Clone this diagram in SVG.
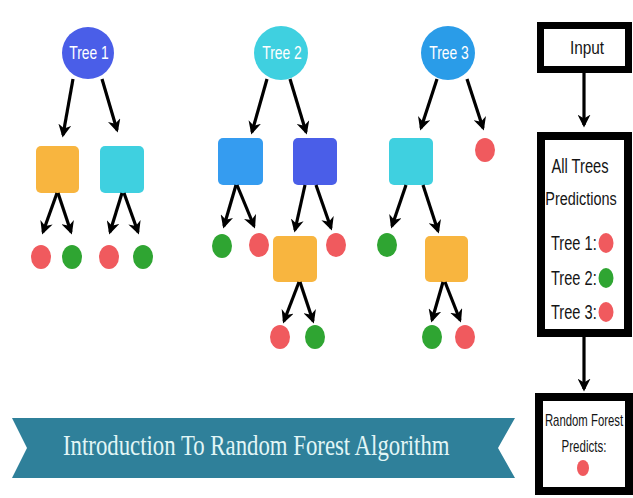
<svg xmlns="http://www.w3.org/2000/svg" width="633" height="498" viewBox="0 0 633 498">
<style>
.rl{font-family:"Liberation Sans",Arial,sans-serif;font-size:19px;fill:#ffffff;text-anchor:middle}
.rt{font-family:"Liberation Sans",Arial,sans-serif;fill:#151515}
.mid{text-anchor:middle}
.red{fill:#f05a5e}
.green{fill:#2fa532}
.orange{fill:#f8b53f}
.cyan{fill:#3fd0e0}
.blue{fill:#359cf0}
.indigo{fill:#4a5ee8}
.box{fill:#fff;stroke:#000}
.conn line{stroke:#000;stroke-width:3.2;marker-end:url(#ah)}
</style>
<defs>
<marker id="ah" viewBox="0 0 10 10" refX="8" refY="5" markerWidth="13" markerHeight="13" markerUnits="userSpaceOnUse" orient="auto">
<path d="M0,0 L10,5 L0,10 L3,5 z" fill="#000"/>
</marker>
</defs>
<rect width="633" height="498" fill="#ffffff"/>

<g id="tree1">
<circle cx="88" cy="53" r="26" class="indigo"/>
<text class="rl" transform="translate(89,59) scale(0.73,1)">Tree 1</text>
</g>
<g id="t1-orange"><rect x="36" y="146" width="43" height="47" rx="5" class="orange"/></g>
<g id="t1-cyan"><rect x="100" y="146" width="44" height="47" rx="5" class="cyan"/></g>
<g id="t1-leaves">
<ellipse cx="41" cy="257" rx="10" ry="12" class="red"/>
<ellipse cx="72" cy="257" rx="10" ry="12" class="green"/>
<ellipse cx="109" cy="257" rx="10" ry="12" class="red"/>
<ellipse cx="143" cy="257" rx="10" ry="12" class="green"/>
</g>

<g id="tree2">
<circle cx="281" cy="53" r="27" class="cyan"/>
<text class="rl" transform="translate(282,59) scale(0.73,1)">Tree 2</text>
</g>
<g id="t2-blue"><rect x="218" y="138" width="45" height="47" rx="5" class="blue"/></g>
<g id="t2-indigo"><rect x="293" y="138" width="44" height="47" rx="5" class="indigo"/></g>
<g id="t2-orange"><rect x="273" y="236" width="44" height="46" rx="5" class="orange"/></g>
<g id="t2-leaves">
<ellipse cx="222" cy="246" rx="10" ry="12" class="green"/>
<ellipse cx="259" cy="245" rx="10" ry="12" class="red"/>
<ellipse cx="336" cy="245" rx="10" ry="12" class="red"/>
<ellipse cx="280" cy="337" rx="10" ry="12" class="red"/>
<ellipse cx="315" cy="337" rx="10" ry="12" class="green"/>
</g>

<g id="tree3">
<circle cx="448" cy="53" r="27" fill="#2a9ce8"/>
<text class="rl" transform="translate(449,59) scale(0.73,1)">Tree 3</text>
</g>
<g id="t3-cyan"><rect x="389" y="138" width="44" height="47" rx="5" class="cyan"/></g>
<g id="t3-orange"><rect x="425" y="236" width="43" height="46" rx="5" class="orange"/></g>
<g id="t3-leaves">
<ellipse cx="485" cy="150" rx="10" ry="12" class="red"/>
<ellipse cx="387" cy="245" rx="10" ry="12" class="green"/>
<ellipse cx="432" cy="337" rx="10" ry="12" class="green"/>
<ellipse cx="465" cy="337" rx="10" ry="12" class="red"/>
</g>

<g id="input">
<rect x="540.5" y="25.5" width="88" height="44" class="box" stroke-width="7"/>
<text class="rt mid" font-size="19" transform="translate(587,54) scale(0.81,1)">Input</text>
</g>
<g id="predictions">
<rect x="541" y="136" width="87" height="197" class="box" stroke-width="8"/>
<text class="rt mid" font-size="20" transform="translate(580,173) scale(0.735,1)">All Trees</text>
<text class="rt mid" font-size="19" transform="translate(581,205) scale(0.76,1)">Predictions</text>
<text class="rt" font-size="20" transform="translate(551,250) scale(0.73,1)">Tree 1:</text>
<text class="rt" font-size="20" transform="translate(551,285) scale(0.73,1)">Tree 2:</text>
<text class="rt" font-size="20" transform="translate(551,319) scale(0.73,1)">Tree 3:</text>
<ellipse cx="606" cy="243" rx="7.5" ry="10" class="red"/>
<ellipse cx="606" cy="278" rx="7.5" ry="10" class="green"/>
<ellipse cx="606" cy="312" rx="7.5" ry="10" class="red"/>
</g>
<g id="result">
<rect x="539" y="397" width="90" height="94" class="box" stroke-width="8"/>
<text class="rt mid" font-size="16" transform="translate(584,426) scale(0.71,1)">Random Forest</text>
<text class="rt mid" font-size="16" transform="translate(584,452) scale(0.72,1)">Predicts:</text>
<ellipse cx="583" cy="468" rx="6" ry="8" class="red"/>
</g>

<g id="banner">
<path d="M12,418 L515,418 L498,448 L515,478 L12,478 L27,448 Z" fill="#2f809a"/>
<text font-family="'Liberation Serif','DejaVu Serif',serif" font-size="30" fill="#e2f6f6" transform="translate(63,455) scale(0.76,1)">Introduction To Random Forest Algorithm</text>
</g>

<g id="connectors" class="conn">
<line x1="73" y1="79" x2="63" y2="135"/>
<line x1="102" y1="79" x2="117" y2="130"/>
<line x1="57" y1="193" x2="43" y2="232"/>
<line x1="58" y1="193" x2="71" y2="232"/>
<line x1="122" y1="193" x2="110" y2="232"/>
<line x1="124" y1="193" x2="138" y2="232"/>
<line x1="267" y1="79" x2="252" y2="132"/>
<line x1="290" y1="79" x2="306" y2="132"/>
<line x1="236" y1="185" x2="224" y2="226"/>
<line x1="237" y1="185" x2="254" y2="226"/>
<line x1="305" y1="185" x2="295" y2="230"/>
<line x1="316" y1="185" x2="331" y2="228"/>
<line x1="299" y1="282" x2="284" y2="321"/>
<line x1="300" y1="282" x2="313" y2="321"/>
<line x1="437" y1="79" x2="421" y2="128"/>
<line x1="467" y1="79" x2="483" y2="128"/>
<line x1="406" y1="185" x2="392" y2="226"/>
<line x1="423" y1="185" x2="438" y2="231"/>
<line x1="443" y1="282" x2="432" y2="320"/>
<line x1="445" y1="282" x2="460" y2="320"/>
<line x1="584" y1="73" x2="584" y2="125"/>
<line x1="584" y1="337" x2="584" y2="389"/>
</g>
</svg>
